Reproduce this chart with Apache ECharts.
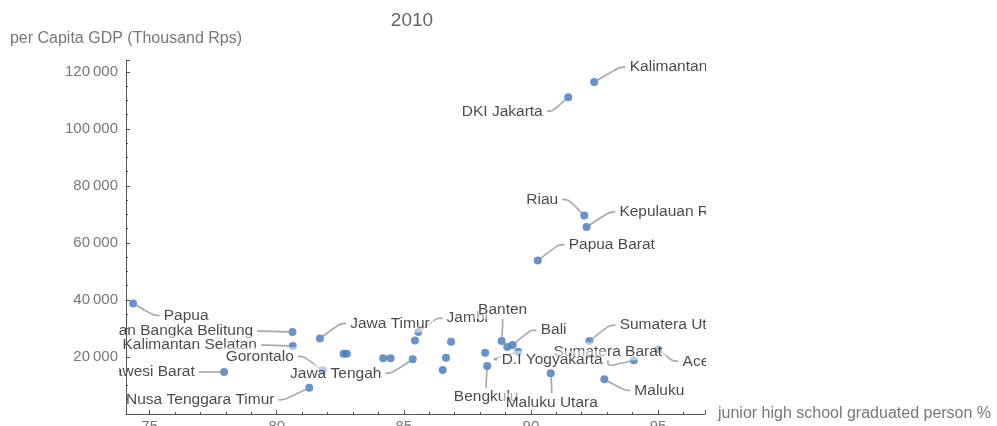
<!DOCTYPE html>
<html>
<head>
<meta charset="utf-8">
<title>2010</title>
<script src="https://cdn.jsdelivr.net/npm/echarts@6.0.0/dist/echarts.min.js"></script>
<style>
	html, body { margin: 0; padding: 0; background: #fff; }
	#chart { width: 997px; height: 426px; }
</style>
</head>
<body>
<div id="chart"></div>
<script>
	// provinces in BPS order
	var provinces = [
		'Aceh', 'Sumatera Utara', 'Sumatera Barat', 'Riau', 'Jambi', 'Sumatera Selatan',
		'Bengkulu', 'Lampung', 'Kepulauan Bangka Belitung', 'Kepulauan Riau', 'DKI Jakarta',
		'Jawa Barat', 'Jawa Tengah', 'D.I Yogyakarta', 'Jawa Timur', 'Banten', 'Bali',
		'Nusa Tenggara Barat', 'Nusa Tenggara Timur', 'Kalimantan Barat', 'Kalimantan Tengah',
		'Kalimantan Selatan', 'Kalimantan Timur', 'Sulawesi Utara', 'Sulawesi Tengah',
		'Sulawesi Selatan', 'Sulawesi Tenggara', 'Gorontalo', 'Sulawesi Barat', 'Maluku',
		'Maluku Utara', 'Papua Barat', 'Papua'
	];
	var juniorGradPct = [
		95.01, 92.30, 94.05, 92.10, 85.57, 85.44,
		88.28, 86.66, 80.62, 92.19, 91.47,
		88.20, 85.35, 89.50, 81.70, 88.85, 89.28,
		86.53, 81.28, 84.19, 86.86,
		80.63, 92.49, 89.07, 82.63,
		82.76, 84.48, 81.81, 77.93, 92.89,
		90.78, 90.27, 74.35
	];
	var gdpPerCapita = [
		22680, 25590, 18830, 69690, 28740, 25830,
		16840, 19780, 28740, 65630, 111130,
		21530, 19180, 21880, 26530, 25590, 24190,
		15440, 9200, 19530, 25380,
		23840, 116480, 23490, 21180,
		21180, 19530, 15330, 14740, 12180,
		14280, 53830, 38780
	];
	var yTickValues = [20000, 40000, 60000, 80000, 100000, 120000];
	var xRange = [74.07, 96.85];
	var yRange = [0, 124210];

	// where each callout label sits, in px from its point (unlisted = no label)
	var labelOffsets = {
		'Aceh': [42, 12],
		'Sumatera Utara': [85, -16],
		'Sumatera Barat': [-26, -9],
		'Riau': [-42, -16],
		'Jambi': [49, -14],
		'Bengkulu': [-1, 31],
		'Kepulauan Bangka Belitung': [-135, -1],
		'Kepulauan Riau': [88, -15],
		'DKI Jakarta': [-66, 14],
		'Jawa Tengah': [-77, 14],
		'D.I Yogyakarta': [34, 8],
		'Jawa Timur': [70, -15],
		'Banten': [1, -31],
		'Bali': [41, -15],
		'Nusa Tenggara Timur': [-109, 12],
		'Kalimantan Selatan': [-103, -1],
		'Kalimantan Timur': [96, -15],
		'Gorontalo': [-63, -14],
		'Sulawesi Barat': [-81, 0],
		'Maluku': [55, 11],
		'Maluku Utara': [1, 29],
		'Papua Barat': [74, -16],
		'Papua': [53, 12]
	};

	var points = [];
	for (var i = 0; i < provinces.length; i++) {
		points.push({
			name: provinces[i],
			value: [juniorGradPct[i], gdpPerCapita[i]],
			label: { show: !!labelOffsets[provinces[i]] }
		});
	}

	function thinSpace(v) {
		return String(v).replace(/\B(?=(\d{3})+(?!\d))/g, '\u2009');
	}

	var axisGrey = '#777';
	var font = 'Liberation Sans, Arial, sans-serif';

	var chart = echarts.init(document.getElementById('chart'));
	var option = {
		animation: false,
		backgroundColor: '#fff',
		title: {
			text: '2010',
			left: 407,
			top: 6,
			textAlign: 'center',
			textStyle: { fontSize: 19, fontWeight: 'normal', color: '#666', fontFamily: font }
		},
		grid: { left: 126, right: 292, top: 60, bottom: 12, outerBoundsMode: 'none' },
		xAxis: {
			type: 'value',
			min: xRange[0],
			max: xRange[1],
			splitNumber: 5,
			z: 10,
			name: 'junior high school graduated person %',
			nameLocation: 'end',
			nameGap: 13,
			nameTextStyle: { color: axisGrey, fontSize: 16, fontFamily: font },
			axisLine: { onZero: false, lineStyle: { color: '#555' } },
			axisTick: { inside: true, length: 4, lineStyle: { color: '#555' } },
			minorTick: { show: true, splitNumber: 5, length: 2, lineStyle: { color: '#555' } },
			axisLabel: { margin: 5, color: axisGrey, fontSize: 15, fontFamily: font, showMinLabel: false, showMaxLabel: false },
			splitLine: { show: false }
		},
		yAxis: {
			type: 'value',
			min: yRange[0],
			max: yRange[1],
			interval: yTickValues[1] - yTickValues[0],
			z: 10,
			name: 'per Capita GDP (Thousand Rps)',
			nameLocation: 'end',
			nameGap: 13,
			nameTextStyle: { color: axisGrey, fontSize: 16, fontFamily: font },
			axisLine: { show: true, onZero: false, lineStyle: { color: '#555' } },
			axisTick: { show: true, inside: true, length: 4, lineStyle: { color: '#555' } },
			minorTick: { show: true, splitNumber: 4, length: 2, lineStyle: { color: '#555' } },
			axisLabel: {
				margin: 8, color: axisGrey, fontSize: 15, fontFamily: font,
				showMinLabel: false, showMaxLabel: false,
				formatter: function (v) {
					return yTickValues.indexOf(v) >= 0 ? thinSpace(v) : '';
				}
			},
			splitLine: { show: false }
		},
		// white masks so callout text is clipped to the plot like the original
		graphic: [
			{ type: 'rect', z: 5, shape: { x: 0, y: 180, width: 119, height: 246 }, style: { fill: '#fff' } },
			{ type: 'rect', z: 5, shape: { x: 706, y: 40, width: 291, height: 386 }, style: { fill: '#fff' } }
		],
		series: [{
			type: 'scatter',
			data: points,
			symbolSize: 8,
			itemStyle: { color: '#4377bb' },
			label: {
				position: 'inside',
				formatter: '{b}',
				color: '#1a1a1a',
				fontSize: 15.5,
				fontFamily: font,
				backgroundColor: 'rgba(255,255,255,0.65)',
				padding: [1, 4]
			},
			labelLine: {
				show: true,
				smooth: 0.4,
				length2: 6,
				lineStyle: { color: '#aaa', width: 1.7 }
			},
			labelLayout: function (params) {
				var off = labelOffsets[provinces[params.dataIndex]];
				if (!off) {
					return {};
				}
				var r = params.rect;
				return {
					x: r.x + r.width / 2 + off[0],
					y: r.y + r.height / 2 + off[1],
					align: 'center',
					verticalAlign: 'middle'
				};
			},
			emphasis: { disabled: true }
		}]
	};
	chart.setOption(option);
</script>
</body>
</html>
